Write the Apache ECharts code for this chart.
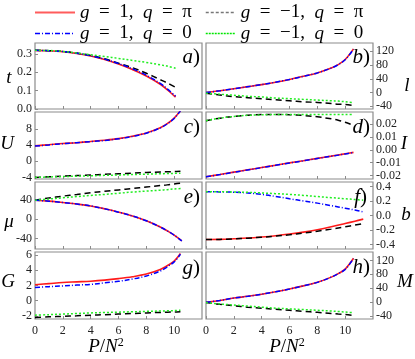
<!DOCTYPE html>
<html><head><meta charset="utf-8">
<script src="https://cdn.jsdelivr.net/npm/echarts@6/dist/echarts.min.js"></script>
<style>html,body{margin:0;padding:0;background:#fff}#c{width:415px;height:359px}</style>
</head><body><div id="c"></div>
<script>
// ---- series names ----
const S1 = 'g = 1, q = π';
const S2 = 'g = −1, q = π';
const S3 = 'g = 1, q = 0';
const S4 = 'g = −1, q = 0';

// ---- x ticks ----
const xTicks = [0, 2, 4, 6, 8, 10];

// ---- panel a: t ----
const xA = [0,1,2,3,4,5,6,7,8,9,9.5,10.1];
const aRed   = [0.320,0.318,0.313,0.303,0.289,0.270,0.245,0.215,0.180,0.135,0.105,0.065];
const aBlack = [0.320,0.318,0.314,0.305,0.292,0.274,0.250,0.225,0.195,0.160,0.142,0.118];
const aBlue  = [0.320,0.318,0.313,0.304,0.290,0.272,0.248,0.219,0.184,0.140,0.110,0.070];
const aGreen = [0.320,0.319,0.314,0.305,0.296,0.286,0.276,0.265,0.254,0.241,0.234,0.222];
const aTicks = [0, 0.1, 0.2, 0.3];

// ---- panel b: l ----
const xB = [0,1,2,3,4,5,6,7,8,9,9.5,10,10.6];
const bRed   = [0,5,11,17,23,30,38,47,57,71,81,96,127];
const bBlack = [-2,-7,-12,-15,-18,-21,-24,-27,-29,-32,-34,-35,-38];
const bBlue  = [0,5,11,17,23,30,38,47,57,71,81,95,126];
const bGreen = [-2,-5,-8,-11,-13,-16,-18,-20,-22,-24,-25,-27,-30];
const bTicks = [-40, 0, 40, 80, 120];

// ---- panel c: U ----
const xC = [0,1,2,3,4,5,6,7,8,9,9.5,10,10.45];
const cRed   = [3.8,4.1,4.4,4.6,4.9,5.2,5.6,6.2,7.0,8.3,9.3,10.7,12.5];
const cBlack = [-4.0,-3.85,-3.7,-3.55,-3.4,-3.25,-3.1,-2.95,-2.8,-2.65,-2.6,-2.55,-2.5];
const cBlue  = [3.75,4.05,4.35,4.6,4.85,5.15,5.55,6.15,6.95,8.25,9.25,10.6,12.5];
const cGreen = [-4.0,-3.9,-3.8,-3.7,-3.6,-3.5,-3.4,-3.3,-3.2,-3.1,-3.05,-3.0,-2.95];
const cTicks = [-4, 0, 4, 8];

// ---- panel d: I ----
const xD = [0,1,2,3,4,5,6,7,8,9,9.5,10,10.6];
const dRed   = [-0.0208,-0.0191,-0.0173,-0.0155,-0.0137,-0.0119,-0.0101,-0.0084,-0.0066,-0.0049,-0.0040,-0.0031,-0.0020];
const dBlack = [0.0226,0.0245,0.0259,0.0268,0.0273,0.0274,0.0272,0.0266,0.0256,0.0240,0.0229,0.0214,0.0190];
const dBlue  = [-0.0209,-0.0192,-0.0174,-0.0156,-0.0138,-0.0120,-0.0102,-0.0085,-0.0067,-0.0050,-0.0041,-0.0032,-0.0021];
const dGreen = [0.0226,0.0245,0.0259,0.0267,0.0271,0.0273,0.0273,0.0273,0.0273,0.0273,0.0273,0.0273,0.0273];
const dTicks = [-0.02, -0.01, 0, 0.01, 0.02];

// ---- panel e: mu ----
const xE = [0,1,2,3,4,5,6,7,8,9,9.5,10,10.55];
const eRed   = [40,38,35,32,28,22,15,7,-3,-16,-24,-33,-45];
const eBlack = [40,44.5,48.5,52,55.5,58.5,61.5,64.5,67.5,70.5,72,74,76];
const eBlue  = [40,38,35,32,28,22,15,7,-3,-16,-24,-33,-45];
const eGreen = [40,42.5,45,47.5,50,52,54.5,57,59,61,62,63.5,64.5];
const eTicks = [-40, 0, 40];

// ---- panel f: b ----
const xF = [0,1,2,3,4,5,6,7,8,9,10,10.7,11.3];
const fRed   = [-0.33,-0.328,-0.32,-0.31,-0.295,-0.277,-0.255,-0.228,-0.195,-0.155,-0.11,-0.078,-0.05];
const fBlack = [-0.33,-0.328,-0.32,-0.311,-0.298,-0.283,-0.265,-0.242,-0.215,-0.187,-0.155,-0.132,-0.11];
const fBlue  = [0.325,0.324,0.32,0.31,0.29,0.262,0.23,0.2,0.17,0.135,0.10,0.075,0.05];
const fGreen = [0.325,0.325,0.323,0.318,0.31,0.30,0.29,0.276,0.26,0.245,0.23,0.22,0.21];
const fTicks = [-0.4, -0.2, 0, 0.2, 0.4];

// ---- panel g: G ----
const xG = [0,1,2,3,4,5,6,7,8,9,9.5,10,10.45];
const gRed   = [2.1,2.25,2.4,2.48,2.56,2.7,2.9,3.15,3.5,4.1,4.6,5.2,6.2];
const gBlack = [-2.2,-2.12,-2.05,-1.98,-1.9,-1.83,-1.75,-1.68,-1.6,-1.54,-1.51,-1.48,-1.45];
const gBlue  = [1.75,1.85,1.95,2.05,2.15,2.35,2.55,2.85,3.25,3.9,4.45,5.1,6.1];
const gGreen = [-1.9,-1.83,-1.75,-1.68,-1.6,-1.55,-1.5,-1.45,-1.4,-1.35,-1.33,-1.3,-1.25];
const gTicks = [-2, 0, 2, 4, 6];

// ---- panel h: M ----
const xH = [0,1,2,3,4,5,6,7,8,9,9.5,10,10.6];
const hRed   = [0,5,12,17,23,30,38,47,57,72,82,95,126];
const hBlack = [-1,-6,-10,-14,-17,-20,-23,-26,-29,-32,-33.5,-35,-38];
const hBlue  = [0,5,12,17,23,30,38,47,57,72,82,94,125];
const hGreen = [-1,-5,-8,-11,-14,-17,-19,-21,-23,-25,-26.5,-28,-30];
const hTicks = [-40, 0, 40, 80, 120];

// ---- layout ----
const SERIF = '"Liberation Serif", "DejaVu Serif", serif';
const panels = [
  {x:xA, s:[aRed,aBlack,aBlue,aGreen], ticks:aTicks, min:0, max:0.36, dec:1, left:35, top:43, h:66, right:false, name:'t', nx:9, ny:78, tag:'a', tx:200, ty:57},
  {x:xB, s:[bRed,bBlack,bBlue,bGreen], ticks:bTicks, min:-48, max:144, dec:0, left:206, top:43, h:66, right:true, name:'l', nx:407, ny:86, tag:'b', tx:370, ty:57},
  {x:xC, s:[cRed,cBlack,cBlue,cGreen], ticks:cTicks, min:-4.4, max:12.2, dec:0, left:35, top:112, h:67, right:false, name:'U', nx:7, ny:144, tag:'c', tx:200, ty:127},
  {x:xD, s:[dRed,dBlack,dBlue,dGreen], ticks:dTicks, min:-0.0226, max:0.0293, dec:2, left:206, top:112, h:67, right:true, name:'I', nx:404, ny:144, tag:'d', tx:370, ty:127},
  {x:xE, s:[eRed,eBlack,eBlue,eGreen], ticks:eTicks, min:-62, max:78, dec:0, left:35, top:182, h:67, right:false, name:'μ', nx:9, ny:222, tag:'e', tx:200, ty:197},
  {x:xF, s:[fRed,fBlack,fBlue,fGreen], ticks:fTicks, min:-0.46, max:0.46, dec:1, left:206, top:182, h:67, right:true, name:'b', nx:406, ny:215, tag:'f', tx:367, ty:197},
  {x:xG, s:[gRed,gBlack,gBlue,gGreen], ticks:gTicks, min:-2.4, max:6.4, dec:0, left:35, top:252, h:67, right:false, name:'G', nx:8, ny:282, tag:'g', tx:200, ty:268},
  {x:xH, s:[hRed,hBlack,hBlue,hGreen], ticks:hTicks, min:-48, max:144, dec:0, left:206, top:252, h:67, right:true, name:'M', nx:405, ny:282, tag:'h', tx:370, ty:267}
];

const names = [S1, S2, S3, S4];
const styles = [
  {color:'#ff1a1a', type:'solid', width:1.6},
  {color:'#000000', type:[6,4], width:1.5},
  {color:'#0000ff', type:[5,2,1,2], width:1.5},
  {color:'#22ee22', type:[2,2], width:1.5}
];

const grids = [], xAxes = [], yAxes = [], series = [], graphics = [];
panels.forEach((p, i) => {
  grids.push({left:p.left, top:p.top, width:167, height:p.h, show:true, borderColor:'#8c8c8c', borderWidth:1.2, backgroundColor:'rgba(0,0,0,0)'});
  xAxes.push({
    gridIndex:i, type:'value', min:0, max:12, position:'bottom',
    axisLine:{show:false, onZero:false},
    axisTick:{show:true, inside:true, length:3, customValues:xTicks, lineStyle:{color:'#8c8c8c'}},
    axisLabel:{show:i>=6, customValues:xTicks, margin:6, fontFamily:SERIF, fontSize:12, color:'#222'},
    splitLine:{show:false}
  });
  yAxes.push({
    gridIndex:i, type:'value', min:p.min, max:p.max, position:p.right ? 'right' : 'left',
    axisLine:{show:false, onZero:false},
    axisTick:{show:true, inside:true, length:3, customValues:p.ticks, lineStyle:{color:'#8c8c8c'}},
    axisLabel:{customValues:p.ticks, margin:3, fontFamily:SERIF, fontSize:12, color:'#222',
      formatter:(v) => (Math.abs(v) < 1e-12 ? 0 : v).toFixed(p.dec)},
    splitLine:{show:false}
  });
  p.s.forEach((vals, k) => {
    series.push({
      name:names[k], type:'line', xAxisIndex:i, yAxisIndex:i,
      data:p.x.map((xv, j) => [xv, vals[j]]),
      showSymbol:false, symbol:'none', smooth:0.35,
      lineStyle:styles[k], itemStyle:{color:styles[k].color},
      z:2 + k
    });
  });
  graphics.push({type:'text', z:100, style:{text:p.name, x:p.nx, y:p.ny, font:'italic 19px ' + SERIF, fill:'#000', align:'center', verticalAlign:'middle', textAlign:'center', textVerticalAlign:'middle'}});
  graphics.push({type:'text', z:100, style:{text:'{i|' + p.tag + '}{n|)}', x:p.tx, y:p.ty, align:'right', verticalAlign:'middle', textAlign:'right', textVerticalAlign:'middle',
    rich:{i:{fontStyle:'italic', fontSize:21, fontFamily:SERIF, color:'#000'}, n:{fontSize:21, fontFamily:SERIF, color:'#000'}}}});
});

// x-axis titles
[106, 287].forEach(cx => {
  graphics.push({type:'text', z:100, style:{text:'{i|P}{n|/}{i|N}{s|2}', x:cx, y:347, align:'center', verticalAlign:'middle', textAlign:'center', textVerticalAlign:'middle',
    rich:{i:{fontStyle:'italic', fontSize:19, fontFamily:SERIF, color:'#000'}, n:{fontSize:19, fontFamily:SERIF, color:'#000'}, s:{fontSize:12, fontFamily:SERIF, color:'#000', padding:[0,0,9,0]}}}});
});

const legendText = {
  fontFamily:SERIF, fontSize:19, color:'#000', lineHeight:18,
  rich:{i:{fontStyle:'italic', fontFamily:SERIF, fontSize:19, color:'#000'}, n:{fontFamily:SERIF, fontSize:19, color:'#000'}}
};
const fmt = (name) => name.split(/([gq])/).map(t => t === 'g' || t === 'q' ? '{i|' + t + '}' : (t ? '{n|' + t.replace(/ /g, '  ') + '}' : '')).join('');

const option = {
  animation:false,
  backgroundColor:'#fff',
  legend:[
    {orient:'vertical', left:34, top:3, padding:0, itemGap:2, itemWidth:40, itemHeight:12, textStyle:legendText, formatter:fmt,
     itemStyle:{opacity:0, borderWidth:0},
     data:[{name:S1, lineStyle:{color:'#ff5c5c', width:2, opacity:1}}, {name:S3, lineStyle:{color:'#0000ff', width:1.5, opacity:1}}]},
    {orient:'vertical', left:205, top:3, padding:0, itemGap:2, itemWidth:30, itemHeight:12, textStyle:legendText, formatter:fmt,
     itemStyle:{opacity:0, borderWidth:0},
     data:[{name:S2, lineStyle:{color:'#777', width:1.3, type:[3,2], opacity:1}}, {name:S4, lineStyle:{color:'#00e600', width:1.5, type:[2,1], opacity:1}}]}
  ],
  grid:grids, xAxis:xAxes, yAxis:yAxes, series:series, graphic:graphics
};
const chart = echarts.init(document.getElementById('c'), null, {renderer:'canvas'});
chart.setOption(option);
</script></body></html>
